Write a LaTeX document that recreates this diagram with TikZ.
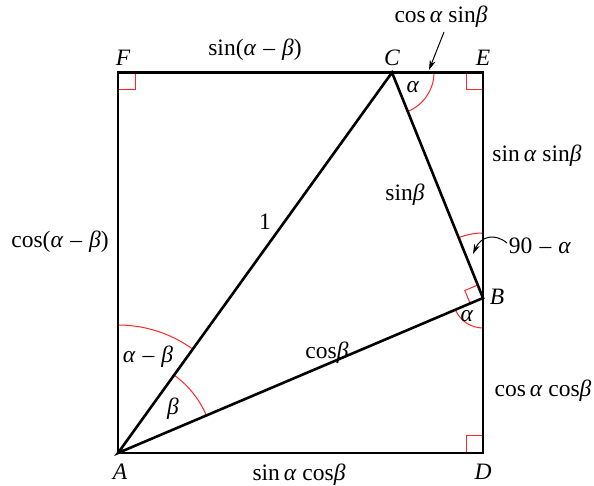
\documentclass[tikz,border=0pt]{standalone}
\usepackage{fontspec}
\setmainfont{Liberation Serif}
\usetikzlibrary{arrows.meta,calc}
\newcommand{\ga}{\textit{α}}
\newcommand{\gb}{\textit{β}}
\newcommand{\mn}{\hspace{0.3em}–\hspace{0.3em}}
\begin{document}
\begin{tikzpicture}[x=1pt,y=1pt,
  thick line/.style={line width=2.6pt, line join=miter},
  angarc/.style={red!85!white, line width=1pt},
  lbl/.style={font=\fontsize{23.5}{26}\selectfont, inner sep=0pt},
  ptlbl/.style={font=\fontsize{23.5}{26}\selectfont\itshape, inner sep=0pt},
  pointer/.style={line width=1pt, -{Stealth[length=10pt,width=6pt]}}]
\useasboundingbox (0,0) rectangle (594,486);
% points
\coordinate (A) at (118,33);
\coordinate (D) at (483,33);
\coordinate (E) at (483,413.5);
\coordinate (F) at (118,413.5);
\coordinate (C) at (392,413.5);
\coordinate (B) at (483,188);
% right-angle marks
\draw[angarc] ($(F)+(17,0)$) -- ++(0,-17) -- ++(-17,0);
\draw[angarc] ($(E)+(-17,0)$) -- ++(0,-17) -- ++(17,0);
\draw[angarc] ($(D)+(-17,0)$) -- ++(0,17) -- ++(17,0);
\draw[angarc] ($(B)+(203:14)$) -- ++(112:14) -- ++(23:14);
% angle arcs
\draw[angarc] ($(C)+(0:42)$) arc[start angle=0, end angle=-68, radius=42];
\draw[angarc] ($(A)+(90:128)$) arc[start angle=90, end angle=54.24, radius=128];
\draw[angarc] ($(A)+(54.24:96)$) arc[start angle=54.24, end angle=23, radius=96];
\draw[angarc] ($(B)+(270:30)$) arc[start angle=270, end angle=203, radius=30];
\draw[angarc] ($(B)+(90:65)$) arc[start angle=90, end angle=112, radius=65];
% frame and triangle
\draw[thick line] (A) -- (D) -- (E) -- (F) -- cycle;
\draw[thick line] (A) -- (C) -- (B) -- cycle;
% point labels
\node[ptlbl] (lF) at (123,428) {F};
\node[ptlbl] (lC) at (392,428) {C};
\node[ptlbl] (lE) at (483,428) {E};
\node[ptlbl] (lB) at (497,189) {B};
\node[ptlbl] (lA) at (120,14) {A};
\node[ptlbl] (lD) at (483,14) {D};
% side labels
\node[lbl] (sab) at (255,436) {sin(\ga\mn\gb)};
\node[lbl] (casb) at (441,469) {cos\,\ga\ sin\gb};
\node[lbl] (sasb) at (537,330) {sin\,\ga\ sin\gb};
\node[lbl] (sb) at (405,291) {sin\gb};
\node[lbl] (one) at (265,264) {1};
\node[lbl] (cab) at (60,244) {cos(\ga\mn\gb)};
\node[lbl] (nma) at (540,240) {90\mn\ga};
\node[lbl] (cb) at (327,133) {cos\gb};
\node[lbl] (cacb) at (543,95) {cos\,\ga\ cos\gb};
\node[lbl] (sacb) at (299,11) {sin\,\ga\ cos\gb};
% angle labels
\node[lbl] (aC) at (413,399) {\ga};
\node[lbl] (aB) at (467,170) {\ga};
\node[lbl] (amb) at (148,129) {\ga\mn\gb};
\node[lbl] (bA) at (173,77) {\gb};
% pointers
\coordinate (src1) at (444,454);
\coordinate (tip1) at (429,416);
\coordinate (src2) at (507,243);
\coordinate (tip2) at (473,232);
\draw[pointer] (src1) -- (tip1);
\draw[pointer] (src2) .. controls (495,253) and (481,250) .. (tip2);
\end{tikzpicture}
\end{document}
